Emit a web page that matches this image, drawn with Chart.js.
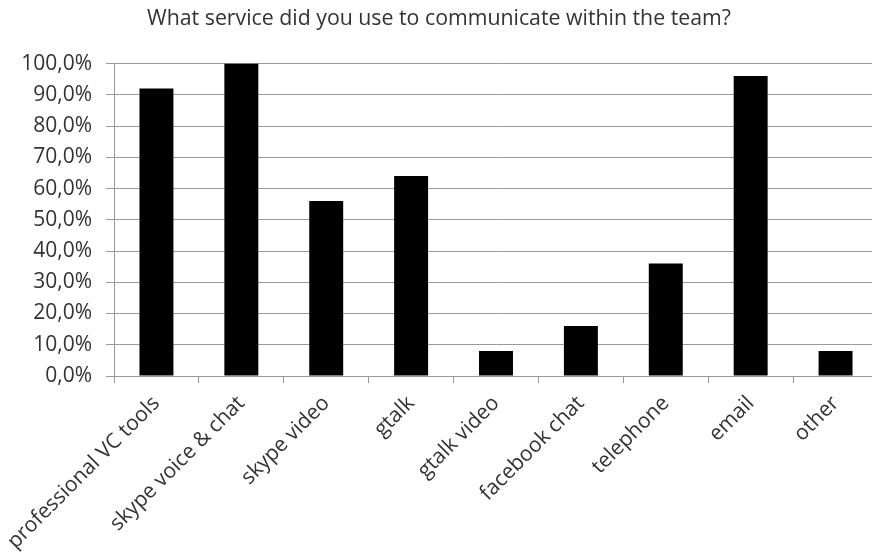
<!DOCTYPE html>
<html>
<head>
<meta charset="utf-8">
<script src="https://cdn.jsdelivr.net/npm/chart.js@4/dist/chart.umd.min.js"></script>
<style>
  html, body { margin: 0; padding: 0; background: #fff; overflow: hidden; }
  #wrap { width: 880px; height: 554px; }
</style>
</head>
<body>
<div id="wrap"><canvas id="chart" width="880" height="554"></canvas></div>
<script>
// survey: which service was used for team communication (share of respondents, %)
const categories = [
  'professional VC tools', 'skype voice & chat', 'skype video', 'gtalk',
  'gtalk video', 'facebook chat', 'telephone', 'email', 'other'
];
const shares = [92, 100, 56, 64, 8, 16, 36, 96, 8];
const yTicks = [0, 10, 20, 30, 40, 50, 60, 70, 80, 90, 100];
const titleText = 'What service did you use to communicate within the team?';

const FONT = '"Open Sans", sans-serif';
const gridColor = '#9a9a9a';
const textColor = '#333';

new Chart(document.getElementById('chart'), {
    type: 'bar',
    data: {
        labels: categories,
        datasets: [{
            data: shares,
            backgroundColor: '#000',
            borderWidth: 0,
            barPercentage: 0.8,
            categoryPercentage: 0.5
        }]
    },
    options: {
        responsive: false,
        animation: false,
        layout: { padding: { left: 0, right: 2, top: 0, bottom: 0 } },
        plugins: {
            legend: { display: false },
            tooltip: { enabled: false },
            title: {
                display: true,
                text: titleText,
                color: textColor,
                font: { family: FONT, size: 21.3, weight: 'normal' },
                padding: { top: 6, bottom: 32 }
            }
        },
        scales: {
            x: {
                grid: {
                    drawOnChartArea: false,
                    drawTicks: true,
                    tickLength: 7,
                    color: gridColor
                },
                border: { color: gridColor },
                ticks: {
                    color: textColor,
                    font: { family: FONT, size: 21 },
                    minRotation: 45,
                    maxRotation: 45,
                    autoSkip: false,
                    padding: 8
                },
                afterFit: (scale) => {
                    scale.height = 178;
                    // rotated first label may hang past the left edge, like the original
                    scale.paddingLeft = 0;
                    scale.paddingRight = 0;
                }
            },
            y: {
                min: 0,
                max: 100,
                afterBuildTicks: (scale) => {
                    scale.ticks = yTicks.map(v => ({ value: v }));
                },
                grid: {
                    color: gridColor,
                    tickLength: 8
                },
                border: { color: gridColor },
                ticks: {
                    color: textColor,
                    font: { family: FONT, size: 21 },
                    padding: 14,
                    callback: (v) => v.toFixed(1).replace('.', ',') + '%'
                },
                afterFit: (scale) => { scale.width = 114; }
            }
        }
    }
});
</script>
</body>
</html>
